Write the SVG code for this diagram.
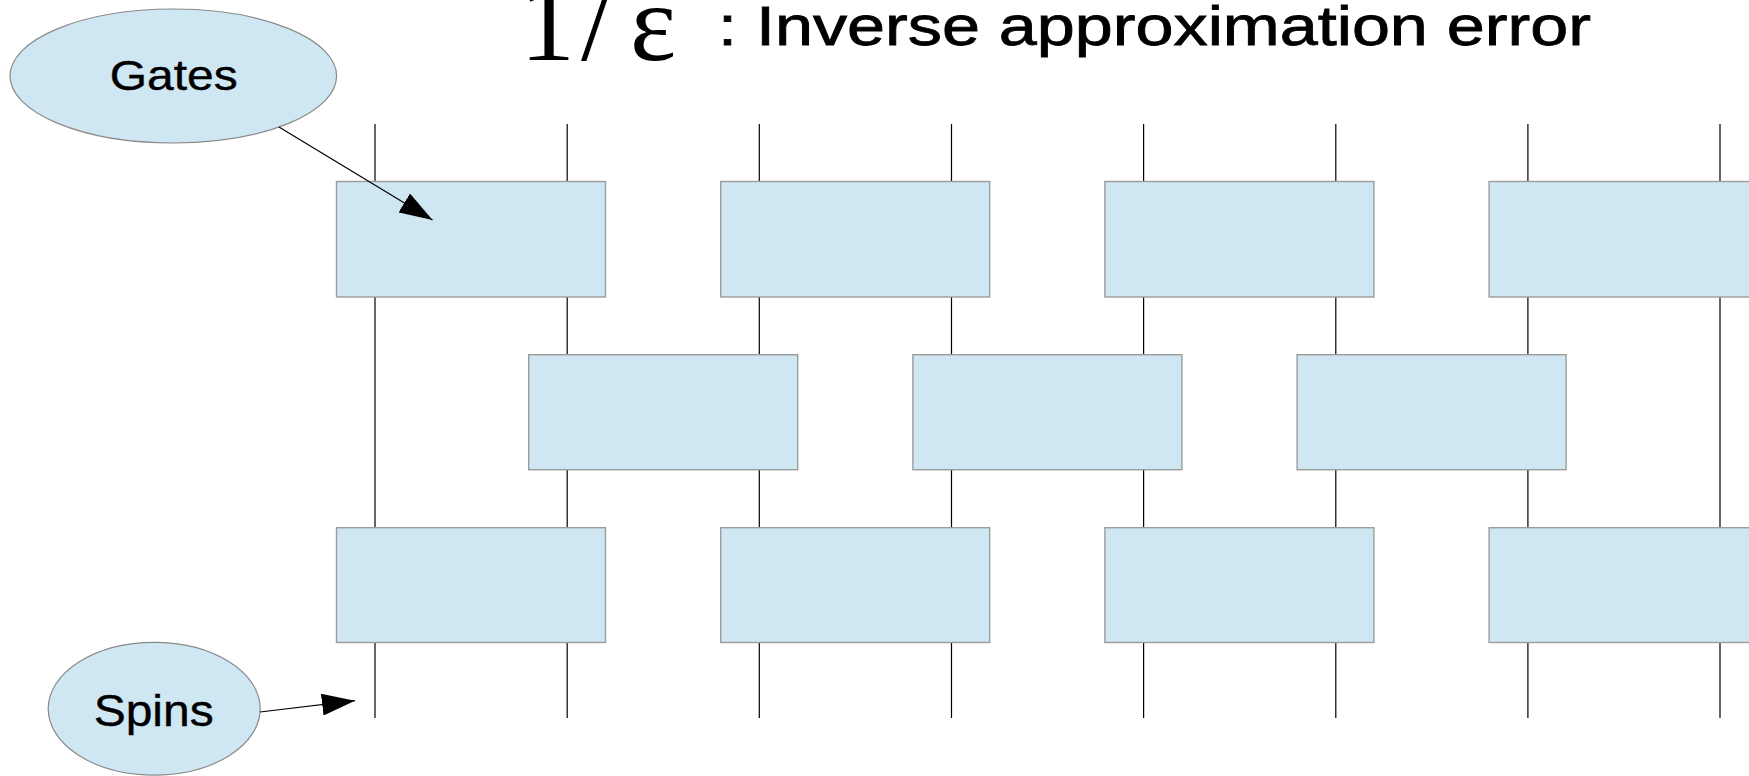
<svg xmlns="http://www.w3.org/2000/svg" width="1749" height="776" viewBox="0 0 1749 776">
  <defs>
    <style>
      .wire { stroke: #000; stroke-width: 1.2; fill: none; }
      .gate { fill: #cfe6f3; stroke: #9c9c9c; stroke-width: 1.4; }
      .label-shape { fill: #cfe6f3; stroke: #8a8a8a; stroke-width: 1.2; }
      .sans { font-family: "Liberation Sans", Arial, sans-serif; fill: #000; }
      .serif { font-family: "Liberation Serif", "Times New Roman", serif; fill: #000; }
      .heavy { stroke: #000; stroke-width: 0.8; }
      .pointer { stroke: #000; stroke-width: 1.2; fill: none; }
    </style>
    <marker id="arrowhead" viewBox="0 0 33 22" refX="33" refY="11" markerWidth="33" markerHeight="22" markerUnits="userSpaceOnUse" orient="auto">
      <path d="M0,0 L33,11 L0,22 z" fill="#000"/>
    </marker>
  </defs>

  <rect width="1749" height="776" fill="#fff"/>

  <!-- title: 1/ε : Inverse approximation error -->
  <g id="title">
    <text class="serif" font-size="110" y="60"><tspan x="520">1</tspan><tspan x="581">/</tspan><tspan x="630">ε</tspan></text>
    <text class="sans heavy" x="718" y="44.5" font-size="56" textLength="873" lengthAdjust="spacingAndGlyphs">: Inverse approximation error</text>
  </g>

  <!-- spin world lines -->
  <g id="spins-lines">
    <line class="wire" x1="375" y1="124" x2="375" y2="718"/>
    <line class="wire" x1="567.2" y1="124" x2="567.2" y2="718"/>
    <line class="wire" x1="759.3" y1="124" x2="759.3" y2="718"/>
    <line class="wire" x1="951.5" y1="124" x2="951.5" y2="718"/>
    <line class="wire" x1="1143.6" y1="124" x2="1143.6" y2="718"/>
    <line class="wire" x1="1335.8" y1="124" x2="1335.8" y2="718"/>
    <line class="wire" x1="1527.9" y1="124" x2="1527.9" y2="718"/>
    <line class="wire" x1="1720" y1="124" x2="1720" y2="718"/>
  </g>

  <!-- first gate layer -->
  <g id="gate-r1-1"><rect class="gate" x="336.5" y="181.5" width="269" height="115.5"/></g>
  <g id="gate-r1-2"><rect class="gate" x="720.7" y="181.5" width="269" height="115.5"/></g>
  <g id="gate-r1-3"><rect class="gate" x="1104.9" y="181.5" width="269" height="115.5"/></g>
  <g id="gate-r1-4"><rect class="gate" x="1489.1" y="181.5" width="269" height="115.5"/></g>

  <!-- second gate layer (shifted by one spin) -->
  <g id="gate-r2-1"><rect class="gate" x="528.7" y="354.7" width="269" height="115"/></g>
  <g id="gate-r2-2"><rect class="gate" x="912.9" y="354.7" width="269" height="115"/></g>
  <g id="gate-r2-3"><rect class="gate" x="1297.1" y="354.7" width="269" height="115"/></g>

  <!-- third gate layer -->
  <g id="gate-r3-1"><rect class="gate" x="336.5" y="527.7" width="269" height="114.8"/></g>
  <g id="gate-r3-2"><rect class="gate" x="720.7" y="527.7" width="269" height="114.8"/></g>
  <g id="gate-r3-3"><rect class="gate" x="1104.9" y="527.7" width="269" height="114.8"/></g>
  <g id="gate-r3-4"><rect class="gate" x="1489.1" y="527.7" width="269" height="114.8"/></g>

  <!-- callouts -->
  <g id="gates-label">
    <ellipse class="label-shape" cx="173.3" cy="76" rx="163.3" ry="67"/>
    <text class="sans" x="173.7" y="90" font-size="43" text-anchor="middle" textLength="128" lengthAdjust="spacingAndGlyphs" stroke="#000" stroke-width="0.4">Gates</text>
  </g>
  <g id="spins-label">
    <ellipse class="label-shape" cx="154.2" cy="708.7" rx="106" ry="66.4"/>
    <text class="sans" x="153.7" y="726" font-size="45" text-anchor="middle" textLength="120" lengthAdjust="spacingAndGlyphs" stroke="#000" stroke-width="0.4">Spins</text>
  </g>

  <!-- pointers -->
  <g id="connectors">
    <line class="pointer" x1="279" y1="127" x2="432.5" y2="220" marker-end="url(#arrowhead)"/>
    <line class="pointer" x1="260" y1="712" x2="355" y2="700.7" marker-end="url(#arrowhead)"/>
  </g>
</svg>
